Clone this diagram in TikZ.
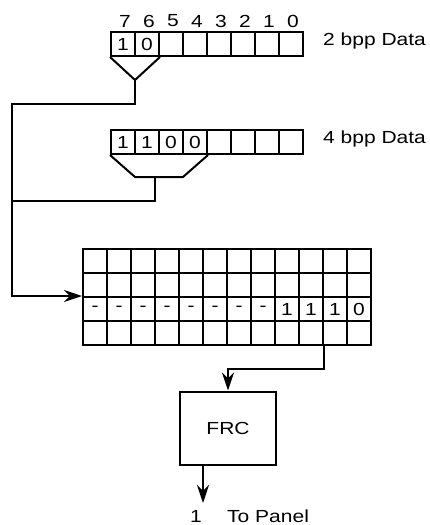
\documentclass[tikz,border=0pt]{standalone}
\usepackage{fontspec}
\setmainfont{Liberation Sans}[FakeStretch=1.2]
\usetikzlibrary{arrows.meta}
\tikzset{
  every node/.style={inner sep=0pt,font=\fontsize{17.5}{19}\selectfont},
  cell/.style={draw,line width=2pt,minimum width=24pt,minimum height=24pt},
  wire/.style={line width=2pt},
  arr/.style={wire,-{Stealth[length=18pt,width=12pt,inset=6pt]}}
}
\begin{document}
\begin{tikzpicture}[x=1pt,y=-1pt]
\useasboundingbox (0,0) rectangle (429,525);
% Draw 2 bpp register with bit numbers
\foreach \b/\v [count=\k from 0] in {7/1,6/0,5/,4/,3/,2/,1/,0/} {
  \node[cell] (a\b) at (123+24*\k,44) {\v};
  \node (n\b) at (125+24*\k,21) {\b};
}
\node[anchor=west] (lab2) at (323,41) {2 bpp Data};
% Draw 4 bpp register
\foreach \b/\v [count=\k from 0] in {7/1,6/1,5/0,4/0,3/,2/,1/,0/} {
  \node[cell] (c\b) at (123+24*\k,142) {\v};
}
\node[anchor=west] (lab4) at (323,139) {4 bpp Data};
% Draw frame buffer grid
\foreach \r in {1,...,4} {
  \foreach \c in {1,...,12} {
    \node[cell] (g-\r-\c) at (71+24*\c,237+24*\r) {};
  }
}
\foreach \c/\v in {1/-,2/-,3/-,4/-,5/-,6/-,7/-,8/-,9/1,10/1,11/1,12/0} {
  \node at (g-3-\c) {\v};
}
% Draw FRC block and output text
\node[draw,line width=2pt,minimum width=96pt,minimum height=73pt] (frc) at (228,428) {FRC};
\node (one) at (196,516) {1};
\node[anchor=west] (panel) at (227,516) {To Panel};

\coordinate (tv) at (135,80);     % tip of 2 bpp funnel
\coordinate (tl) at (135,177);    % 4 bpp funnel, left
\coordinate (tr) at (183,177);    % 4 bpp funnel, right
\coordinate (tm) at (155,177);    % 4 bpp funnel, outlet
\coordinate (bend) at (12,104);   % left bus, top
\coordinate (join) at (12,201);   % left bus, 4 bpp joint
\coordinate (turn) at (228,369);  % elbow above FRC
\coordinate (out) at (203,503);   % end of output arrow

% Draw funnels
\draw[wire] (a7.south west) -- (tv) -- (a6.south east);
\draw[wire] (c7.south west) -- (tl) -- (tr) -- (c4.south east);

% Draw connections
\draw[arr] (tv) |- (bend) |- (g-3-1.north west);
\draw[wire] (tm) |- (join);
\draw[arr] (g-4-10.south east) |- (turn) -- (frc.north);
\draw[arr] (frc.south -| out) -- (out);
\end{tikzpicture}
\end{document}
